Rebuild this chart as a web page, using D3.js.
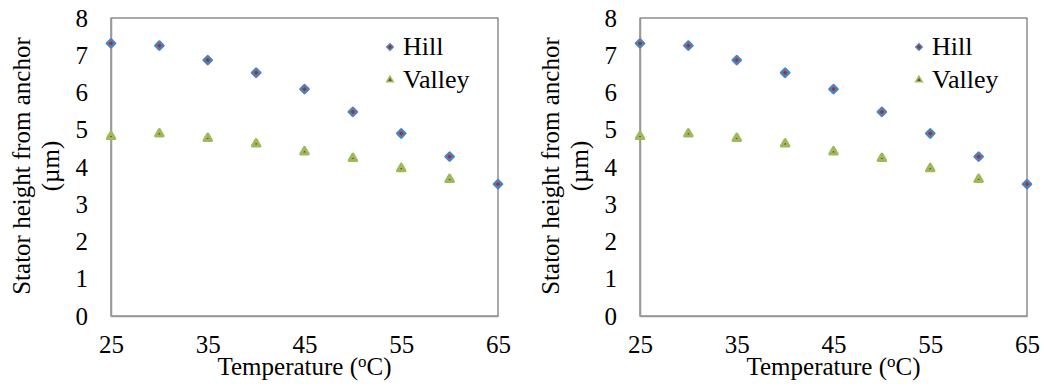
<!DOCTYPE html>
<html>
<head>
<meta charset="utf-8">
<script src="https://cdn.jsdelivr.net/npm/d3@7"></script>
<style>
  body { margin: 0; background: #fff; }
</style>
</head>
<body>
<div id="chart"></div>
<script>
// data
const temps = [25, 30, 35, 40, 45, 50, 55, 60, 65]
const hill = [7.32, 7.26, 6.87, 6.53, 6.09, 5.48, 4.90, 4.28, 3.54]
const valleyTemps = [25, 30, 35, 40, 45, 50, 55, 60]
const valley = [4.82, 4.89, 4.77, 4.62, 4.41, 4.23, 3.96, 3.67]
const xTicks = [25, 35, 45, 55, 65]
const yTicks = [0, 1, 2, 3, 4, 5, 6, 7, 8]

const width = 1044
const height = 392
const panelOffsets = [0, 529]
const serif = '"Liberation Serif"'
const fontSize = 25

const svg = d3.select("#chart")
  .append("svg")
  .attr("width", width)
  .attr("height", height)

function drawPanel(ox) {
  const left = 111 + ox, right = 498 + ox, top = 18, bottom = 316

  const xScale = d3.scaleLinear().domain([25, 65]).range([left, right])
  const yScale = d3.scaleLinear().domain([0, 8]).range([bottom, top])

  const g = svg.append("g")

  // plot frame
  g.append("rect")
    .attr("x", left).attr("y", top)
    .attr("width", right - left).attr("height", bottom - top)
    .attr("fill", "none")
    .attr("stroke", "#555")
    .attr("stroke-width", 1)

  // axes (grey lines, labels without ticks)
  const xAxis = d3.axisBottom(xScale).tickValues(xTicks).tickSize(0).tickPadding(19)
  const yAxis = d3.axisLeft(yScale).tickValues(yTicks).tickSize(0).tickPadding(23)

  g.append("g")
    .attr("transform", `translate(0, ${bottom})`)
    .call(xAxis)
    .call(a => a.select(".domain").attr("stroke", "#999").attr("stroke-width", 1.5))
    .selectAll("text")
    .style("font-family", serif)
    .style("font-size", fontSize + "px")
    .attr("fill", "#000")

  g.append("g")
    .attr("transform", `translate(${left}, 0)`)
    .call(yAxis)
    .call(a => a.select(".domain").attr("stroke", "#999").attr("stroke-width", 1.5))
    .selectAll("text")
    .style("font-family", serif)
    .style("font-size", fontSize + "px")
    .attr("fill", "#000")

  // axis titles
  const xt = g.append("text")
    .attr("x", (left + right) / 2)
    .attr("y", 375)
    .attr("text-anchor", "middle")
    .style("font-family", serif)
    .style("font-size", fontSize + "px")
  xt.append("tspan").text("Temperature (")
  xt.append("tspan").style("font-size", "17px").attr("dy", -8).text("o")
  xt.append("tspan").attr("dy", 8).text("C)")

  const yt = g.append("text")
    .attr("transform", `translate(${30 + ox}, 166) rotate(-90)`)
    .attr("text-anchor", "middle")
    .style("font-family", serif)
    .style("font-size", fontSize + "px")
  yt.append("tspan").attr("x", 0).attr("dy", 0).text("Stator height from anchor")
  yt.append("tspan").attr("x", 0).attr("dy", 29).text("(\u00b5m)")

  const diamond = d3.symbol().type(d3.symbolDiamond2).size(42)
  const triangle = d3.symbol().type(d3.symbolTriangle2).size(40)

  // valley series
  g.selectAll(".valley")
    .data(valleyTemps.map((t, i) => ({ t, v: valley[i] })))
    .join("path")
    .attr("class", "valley")
    .attr("d", triangle)
    .attr("transform", d => `translate(${xScale(d.t)}, ${yScale(d.v)})`)
    .attr("fill", "#953735")
    .attr("stroke", "#9bbb59")
    .attr("stroke-width", 3)
    .attr("stroke-linejoin", "round")

  // hill series
  g.selectAll(".hill")
    .data(temps.map((t, i) => ({ t, v: hill[i] })))
    .join("path")
    .attr("class", "hill")
    .attr("d", diamond)
    .attr("transform", d => `translate(${xScale(d.t)}, ${yScale(d.v)})`)
    .attr("fill", "#953735")
    .attr("stroke", "#4f81bd")
    .attr("stroke-width", 2.5)
    .attr("stroke-linejoin", "round")

  // legend
  const legend = [
    { label: "Hill", sym: d3.symbol().type(d3.symbolDiamond2).size(26), stroke: "#4f81bd", y: 47 },
    { label: "Valley", sym: d3.symbol().type(d3.symbolTriangle2).size(30), stroke: "#9bbb59", y: 80 }
  ]
  const lg = g.selectAll(".legend")
    .data(legend)
    .join("g")
    .attr("class", "legend")
    .attr("transform", d => `translate(${390 + ox}, ${d.y})`)
  lg.append("path")
    .attr("d", d => d.sym())
    .attr("fill", "#953735")
    .attr("stroke", d => d.stroke)
    .attr("stroke-width", 1.5)
  lg.append("text")
    .attr("x", 13)
    .attr("y", 8)
    .style("font-family", serif)
    .style("font-size", "26px")
    .text(d => d.label)
}

panelOffsets.forEach(drawPanel)
</script>
</body>
</html>
